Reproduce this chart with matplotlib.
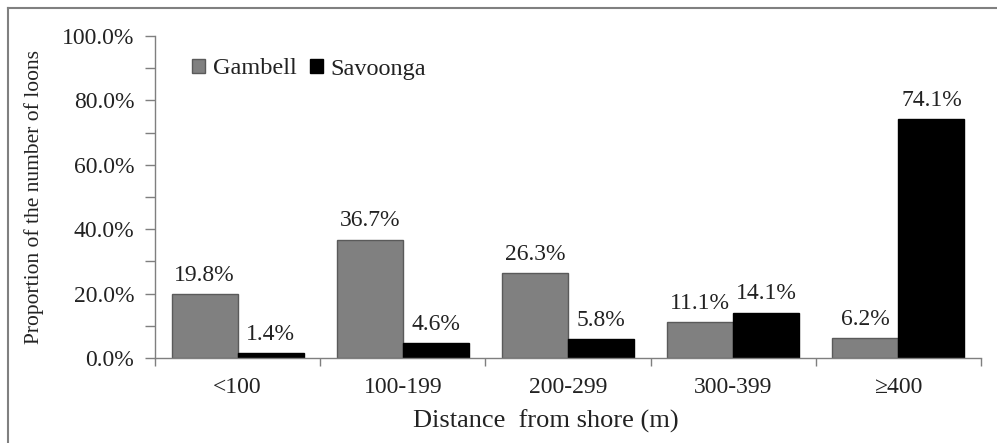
import numpy as np
import matplotlib.pyplot as plt
from matplotlib.lines import Line2D

plt.rcParams['font.family'] = ['Liberation Serif', 'DejaVu Serif']

categories = ['<100', '100-199', '200-299', '300-399', '\u2265400']
gambell = [19.8, 36.7, 26.3, 11.1, 6.2]
savoonga = [1.4, 4.6, 5.8, 14.1, 74.1]
series_names = ['Gambell', 'Savoonga']

txt = '#222222'
W, H = 997, 443
fig = plt.figure(figsize=(W / 100, H / 100), dpi=100)
ax = fig.add_axes([155 / W, 1 - 358 / H, (981 - 155) / W, (358 - 36) / H])

# outer frame: only top and left edges are visible
fig.lines.append(Line2D([8 / W, 1], [1 - 8 / H, 1 - 8 / H], transform=fig.transFigure, color='#808080', lw=1.5))
fig.lines.append(Line2D([8 / W, 8 / W], [0, 1 - 8 / H], transform=fig.transFigure, color='#808080', lw=1.5))

x = np.arange(len(categories))
w = 0.4
b1 = ax.bar(x - w / 2, gambell, w, color='#808080', edgecolor='#5a5a5a', lw=1, label=series_names[0])
b2 = ax.bar(x + w / 2, savoonga, w, color='#000000', edgecolor='#000000', lw=1, label=series_names[1])

for bars, vals in [(b1, gambell), (b2, savoonga)]:
    for rect, v in zip(bars, vals):
        ax.annotate(f'{v:.1f}%', (rect.get_x() + rect.get_width() / 2, v),
                    xytext=(0, 6), textcoords='offset points', ha='center', va='bottom',
                    fontsize=17, color=txt)

ax.set_xlim(-0.5, len(categories) - 0.5)
ax.set_ylim(0, 100)
ax.set_yticks(np.arange(0, 101, 20))
ax.set_yticklabels([f'{v:.1f}%' for v in np.arange(0, 101, 20)])
ax.set_yticks(np.arange(10, 100, 20), minor=True)
ax.tick_params(axis='y', which='both', direction='out', length=7, width=1, color='#7f7f7f',
               labelsize=17, labelcolor=txt, pad=8)

ax.set_xticks(x)
ax.set_xticklabels(categories)
ax.set_xticks(np.arange(-0.5, len(categories), 1), minor=True)
ax.tick_params(axis='x', which='major', length=0, labelsize=17, labelcolor=txt, pad=14)
ax.tick_params(axis='x', which='minor', direction='out', length=6, width=1, color='#7f7f7f')

for s in ['top', 'right']:
    ax.spines[s].set_visible(False)
for s in ['left', 'bottom']:
    ax.spines[s].set_color('#7f7f7f')
    ax.spines[s].set_linewidth(1)

ax.set_ylabel('Proportion of the number of loons', fontsize=15.5, color=txt)
ax.yaxis.set_label_coords((44 - 155) / (981 - 155), 0.5)
ax.set_xlabel('Distance  from shore (m)', fontsize=19, color=txt)
ax.xaxis.set_label_coords((546 - 155) / (981 - 155), -(421 - 358) / (358 - 36))
ax.xaxis.label.set_va('center')

ax.legend(loc='center left', bbox_to_anchor=(192 / W, 1 - 69 / H), bbox_transform=fig.transFigure,
          ncol=2, frameon=False, fontsize=17.5, handlelength=0.55, handleheight=0.55,
          handletextpad=0.3, columnspacing=0.55, borderpad=0, borderaxespad=0, labelcolor=txt)

fig.savefig('out.png', dpi=100)
